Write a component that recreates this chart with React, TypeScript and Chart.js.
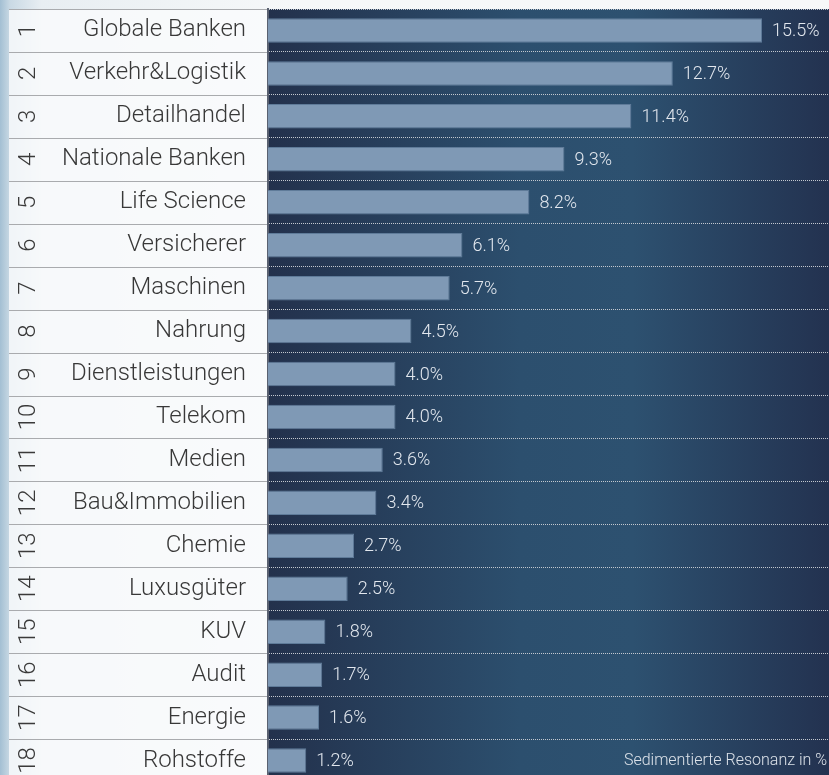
import React, { useEffect, useRef } from "react";
import { Chart, registerables } from "chart.js";

Chart.register(...registerables);

const ranks = ["1", "2", "3", "4", "5", "6", "7", "8", "9", "10", "11", "12", "13", "14", "15", "16", "17", "18"];
const categories = [
  "Globale Banken",
  "Verkehr&Logistik",
  "Detailhandel",
  "Nationale Banken",
  "Life Science",
  "Versicherer",
  "Maschinen",
  "Nahrung",
  "Dienstleistungen",
  "Telekom",
  "Medien",
  "Bau&Immobilien",
  "Chemie",
  "Luxusgüter",
  "KUV",
  "Audit",
  "Energie",
  "Rohstoffe",
];
const values = [15.5, 12.7, 11.4, 9.3, 8.2, 6.1, 5.7, 4.5, 4.0, 4.0, 3.6, 3.4, 2.7, 2.5, 1.8, 1.7, 1.6, 1.2];
const valueLabels = ["15.5%", "12.7%", "11.4%", "9.3%", "8.2%", "6.1%", "5.7%", "4.5%", "4.0%", "4.0%", "3.6%", "3.4%", "2.7%", "2.5%", "1.8%", "1.7%", "1.6%", "1.2%"];
const axisTitle = "Sedimentierte Resonanz in %";

const FONT = "Roboto, 'Liberation Sans', Arial, sans-serif";

const decorPlugin = {
  id: "decor",
  beforeDraw(chart: any) {
    const { ctx, width, height, chartArea } = chart;
    const yScale = chart.scales.y;
    ctx.save();
    // page background
    const bg = ctx.createLinearGradient(0, 0, width, 0);
    bg.addColorStop(0, "#a3bfd3");
    bg.addColorStop(0.012, "#c9d9e4");
    bg.addColorStop(0.05, "#e8eef2");
    bg.addColorStop(0.35, "#f6f8f9");
    bg.addColorStop(1, "#f7f8f9");
    ctx.fillStyle = bg;
    ctx.fillRect(0, 0, width, height);
    // left panel
    ctx.fillStyle = "rgba(250,251,252,0.8)";
    ctx.fillRect(9, chartArea.top, chartArea.left - 9, height - chartArea.top);
    // plot background
    const g = ctx.createLinearGradient(chartArea.left, 0, chartArea.right, 0);
    g.addColorStop(0, "#23314c");
    g.addColorStop(0.45, "#2c4f6e");
    g.addColorStop(0.65, "#2d5170");
    g.addColorStop(1, "#233250");
    ctx.fillStyle = g;
    ctx.fillRect(chartArea.left, chartArea.top, chartArea.right - chartArea.left, chartArea.bottom - chartArea.top);
    // panel separators
    const n = categories.length;
    const step = (yScale.bottom - yScale.top) / n;
    ctx.strokeStyle = "#a9abae";
    ctx.lineWidth = 1;
    for (let i = 0; i <= n; i++) {
      const y = Math.round(yScale.top + i * step) + 0.5;
      ctx.beginPath();
      ctx.moveTo(9, y);
      ctx.lineTo(chartArea.left, y);
      ctx.stroke();
    }
    ctx.restore();
  },
  afterDraw(chart: any) {
    const { ctx, chartArea } = chart;
    const yScale = chart.scales.y;
    const meta = chart.getDatasetMeta(0);
    ctx.save();
    // rank numbers
    ctx.fillStyle = "#3a3a3a";
    ctx.font = `300 24px ${FONT}`;
    ctx.textAlign = "center";
    ctx.textBaseline = "alphabetic";
    ranks.forEach((r, i) => {
      const y = yScale.getPixelForValue(i);
      ctx.save();
      ctx.translate(35, y);
      ctx.rotate(-Math.PI / 2);
      ctx.fillText(r, 0, 0);
      ctx.restore();
    });
    // value labels
    ctx.fillStyle = "#e2e7ee";
    ctx.font = `300 18px ${FONT}`;
    ctx.textAlign = "left";
    ctx.textBaseline = "middle";
    meta.data.forEach((bar: any, i: number) => {
      ctx.fillText(valueLabels[i], bar.x + 10, bar.y + 1);
    });
    // axis title
    ctx.fillStyle = "#dce2e9";
    ctx.font = `300 16px ${FONT}`;
    ctx.textAlign = "right";
    ctx.textBaseline = "middle";
    ctx.fillText(axisTitle, chartArea.right - 2, yScale.getPixelForValue(categories.length - 1));
    ctx.restore();
  },
};

export default function App() {
  const ref = useRef<HTMLCanvasElement>(null);
  useEffect(() => {
    if (!ref.current) return;
    const chart = new Chart(ref.current, {
      type: "bar",
      data: {
        labels: categories,
        datasets: [
          {
            data: values,
            backgroundColor: "#7f99b5",
            borderColor: "#5f7b99",
            borderWidth: 1,
            barPercentage: 0.57,
            categoryPercentage: 1,
          },
        ],
      },
      options: {
        indexAxis: "y",
        responsive: false,
        animation: false,
        devicePixelRatio: 1,
        layout: { padding: { top: 9, bottom: 8, left: 0, right: 0 } },
        plugins: {
          legend: { display: false },
          tooltip: { enabled: false },
        },
        scales: {
          x: {
            display: false,
            min: 0,
            max: 17.6,
          },
          y: {
            type: "category",
            afterFit: (scale: any) => {
              scale.width = 268;
              scale.paddingTop = 0;
              scale.paddingBottom = 0;
            },
            ticks: {
              color: "#383838",
              font: { family: FONT, size: 24, weight: "300" },
              padding: 22,
            },
            grid: {
              color: "#c3c8cf",
              lineWidth: 1,
              drawTicks: false,
            },
            border: {
              display: true,
              color: "#5a6170",
              width: 2,
              dash: [1, 1],
            },
          },
        },
      } as any,
      plugins: [decorPlugin],
    });
    return () => chart.destroy();
  }, []);
  return (
    <div style={{ position: "fixed", left: 0, top: 0, width: 829, height: 775, overflow: "hidden" }}>
      <canvas ref={ref} width={829} height={790} style={{ display: "block" }} />
    </div>
  );
}
